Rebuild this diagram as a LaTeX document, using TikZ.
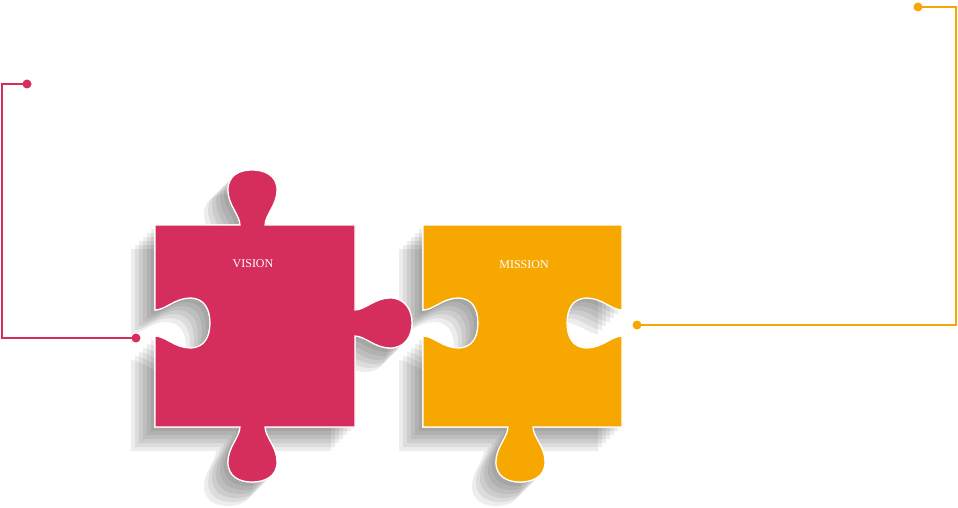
\documentclass[tikz,border=0pt]{standalone}
\usepackage{fontspec}
\setmainfont{Liberation Serif}
\definecolor{visionred}{RGB}{213,46,92}
\definecolor{missionorange}{RGB}{246,167,0}
\tikzset{every picture/.style={line width=0.75pt}}
\tikzset{
  piece/.style={draw=white, line width=1.2pt},
  shade/.style={fill=black, fill opacity=0.07, draw=none},
  lead/.style={line width=1.5pt},
  dot/.style={circle, inner sep=0pt, minimum size=9pt},
  label/.style={text=white, font=\large}
}
% outline of the red piece
\def\visionpath{(155,225) -- (240,225) .. controls (240,215) and (228,205) .. (228,190) .. controls (228,175) and (240,170) .. (252,170) .. controls (264,170) and (277,175) .. (277,190) .. controls (277,205) and (265,215) .. (265,225) -- (355,225) -- (355,310) .. controls (365,310) and (375,298) .. (390,298) .. controls (405,298) and (412,310) .. (412,323) .. controls (412,336) and (405,348) .. (390,348) .. controls (375,348) and (365,336) .. (355,336) -- (355,427) -- (265,427) .. controls (265,437) and (277,447) .. (277,462) .. controls (277,477) and (264,482) .. (252,482) .. controls (240,482) and (228,477) .. (228,462) .. controls (228,447) and (240,437) .. (240,427) -- (155,427) -- (155,336) .. controls (165,336) and (175,348) .. (190,348) .. controls (205,348) and (210,336) .. (210,323) .. controls (210,310) and (205,298) .. (190,298) .. controls (175,298) and (165,310) .. (155,310) -- cycle}
% outline of the orange piece
\def\missionpath{(423,225) -- (622,225) -- (622,310) .. controls (612,310) and (602,298) .. (587,298) .. controls (572,298) and (567,310) .. (567,323) .. controls (567,336) and (572,348) .. (587,348) .. controls (602,348) and (612,336) .. (622,336) -- (622,427) -- (533,427) .. controls (533,437) and (545,447) .. (545,462) .. controls (545,477) and (532,482) .. (520,482) .. controls (508,482) and (496,477) .. (496,462) .. controls (496,447) and (508,437) .. (508,427) -- (423,427) -- (423,336) .. controls (433,336) and (443,348) .. (458,348) .. controls (473,348) and (478,336) .. (478,323) .. controls (478,310) and (473,298) .. (458,298) .. controls (443,298) and (433,310) .. (423,310) -- cycle}

\begin{document}
\begin{tikzpicture}[x=1pt,y=1pt,yscale=-1]
    \useasboundingbox (0,0) rectangle (958,508);

    % shadows
    \foreach \s in {4,8,...,24}
        {\fill[shade, shift={(-\s,\s)}] \visionpath;
         \fill[shade, shift={(-\s,\s)}] \missionpath;}

    % pieces
    \fill[piece, fill=visionred] \visionpath;
    \fill[piece, fill=missionorange] \missionpath;
    \draw[piece, fill=visionred] \visionpath;
    \draw[piece, fill=missionorange] \missionpath;

    \node[label] (vision) at (253,264) {VISION};
    \node[label] (mission) at (524,265) {MISSION};

    % leader lines
    \node[dot, fill=visionred] (vtop) at (27,84) {};
    \node[dot, fill=visionred] (vend) at (136,338) {};
    \coordinate (vc1) at (2,84);
    \coordinate (vc2) at (2,338);
    \draw[lead, visionred] (vtop.center) -- (vc1) -- (vc2) -- (vend.center);

    \node[dot, fill=missionorange] (mtop) at (918,7) {};
    \node[dot, fill=missionorange] (mend) at (637,325) {};
    \coordinate (mc1) at (956,7);
    \coordinate (mc2) at (956,325);
    \draw[lead, missionorange] (mtop.center) -- (mc1) -- (mc2) -- (mend.center);
\end{tikzpicture}
\end{document}
